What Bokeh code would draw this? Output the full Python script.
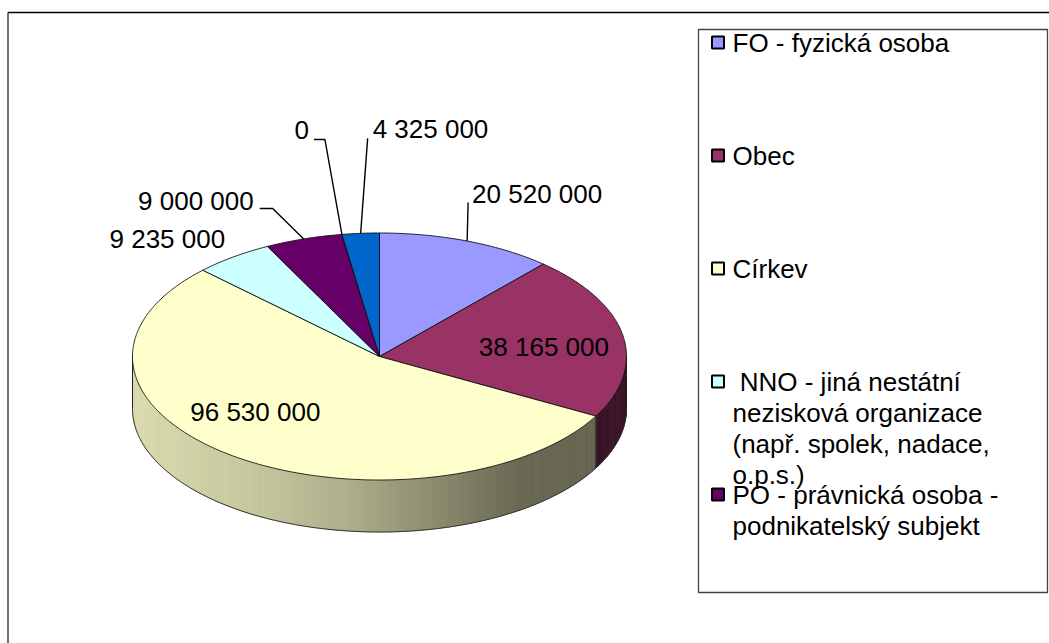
import numpy as np
from bokeh.plotting import figure
from bokeh.models import Range1d, Grid
from bokeh.core.properties import value
from bokeh.embed import file_html
from bokeh.resources import INLINE

# ---------------- data ----------------
categories = ["FO - fyzická osoba", "Obec", "Církev",
              " NNO - jiná nestátní nezisková organizace (např. spolek, nadace, o.p.s.)",
              "PO - právnická osoba - podnikatelský subjekt", "", ""]
values = [20520000, 38165000, 96530000, 9235000, 9000000, 0, 4325000]
colors = ["#9999FF", "#993366", "#FFFFCC", "#CCFFFF", "#660066", "#FF8080", "#0066CC"]
# legend text as wrapped in the original (only the first five entries fit)
legend_lines = [["FO - fyzická osoba"], ["Obec"], ["Církev"],
                ["\u00a0NNO - jiná nestátní", "nezisková organizace", "(např. spolek, nadace,", "o.p.s.)"],
                ["PO - právnická osoba -", "podnikatelský subjekt"]]

# ---------------- layout ----------------
W, H = 1049, 643
X0, Y0 = 0, 0
CX, CY, RX, RY, DEPTH = 379.0, 356.0, 247.0, 123.5, 52.0
FONT = value("Liberation Sans")
FS = "26px"

# label placement relative to slice mid-point on the rim
label_layout = {
    0: ("out", "left", (5, -47.5), [(1, -38.5)]),
    1: ("in", "center", (-79, 12), []),
    2: ("in", "center", (23, -43.5), []),
    3: ("out", "right", (-8, -18), None),
    4: ("out", "right", (-50, -38), [(-31, -30.5), (-44, -30.5)]),
    5: ("out", "right", (-33, -104), [(-17, -95), (-28, -95)]),
    6: ("out", "left", (12, -104), [(7, -95)]),
}


def px(theta):
    return CX + RX * np.sin(np.radians(theta))


def py(theta):
    return CY - RY * np.cos(np.radians(theta))


def fmt(v):
    return f"{v:,}".replace(",", " ")


total = float(sum(values))
angles = np.concatenate([[0.0], np.cumsum(values) / total * 360.0])

p = figure(width=W, height=H, x_range=Range1d(X0, X0 + W), y_range=Range1d(Y0 + H, Y0),
           output_backend="svg", toolbar_location=None, min_border=0,
           x_axis_location=None, y_axis_location=None)
p.center = [r for r in p.center if not isinstance(r, Grid)]
p.outline_line_color = None
p.background_fill_color = "white"
p.border_fill_color = "white"

# chart-area frame (top and left edges visible)
p.line([7.5, X0 + W], [12, 12], line_color="black", line_width=1.5)
p.line([7.5, 7.5], [12, Y0 + H], line_color="#444444", line_width=1.5)


def shade(hexcol, f):
    r, g, b = int(hexcol[1:3], 16), int(hexcol[3:5], 16), int(hexcol[5:7], 16)
    return "#%02x%02x%02x" % (int(r * f), int(g * f), int(b * f))


fx = [132, 250, 350, 450, 520, 600]
ff = [0.86, 0.78, 0.68, 0.52, 0.41, 0.40]

# ---- side walls (front half: 90..270 deg) ----
sxs, sys_, scol = [], [], []
bounds = []
for i, v in enumerate(values):
    a, b = angles[i], angles[i + 1]
    lo, hi = max(a, 90.0), min(b, 270.0)
    if hi <= lo:
        continue
    if 90.0 < a < 270.0:
        bounds.append(a)
    n = max(2, int((hi - lo) / 1.0))
    ts = np.linspace(lo, hi, n + 1)
    for t1, t2 in zip(ts[:-1], ts[1:]):
        tt = np.linspace(t1, t2, 4)
        xs = list(px(tt)) + list(px(tt[::-1]))
        ys = list(py(tt)) + list(py(tt[::-1]) + DEPTH)
        xm = px((t1 + t2) / 2)
        f = 0.38 if i == 1 else float(np.interp(xm, fx, ff))
        c = shade(colors[i], f)
        sxs.append(xs); sys_.append(ys); scol.append(c)
p.patches(sxs, sys_, fill_color=scol, line_color=scol, line_width=0.8)

tb = np.linspace(90, 270, 200)
p.line(px(tb), py(tb) + DEPTH, line_color="#333333", line_width=1)
for t in [90.0, 270.0] + bounds:
    p.segment(x0=[px(t)], y0=[py(t)], x1=[px(t)], y1=[py(t) + DEPTH],
              line_color="#222222", line_width=1)

# ---- top face slices ----
txs, tys = [], []
for i, v in enumerate(values):
    a, b = angles[i], angles[i + 1]
    n = max(2, int((b - a) / 0.5))
    tt = np.linspace(a, b, n + 1)
    txs.append([CX] + list(px(tt)))
    tys.append([CY] + list(py(tt)))
p.patches(txs, tys, fill_color=colors, line_color="#111111", line_width=0.9)

# ---- data labels ----
for i, v in enumerate(values):
    mid = (angles[i] + angles[i + 1]) / 2
    ex, ey = px(mid), py(mid)
    lay = label_layout[i]
    _, align, (dx, dy), pts = lay
    if lay[0] == "out" and pts:
        lx = [ex] + [ex + q[0] for q in pts]
        ly = [ey] + [ey + q[1] for q in pts]
        p.line(lx, ly, line_color="black", line_width=1.4)
    p.text([ex + dx], [ey + dy], text=[fmt(v)], text_font=FONT, text_font_size=FS,
           text_align=align, text_baseline="middle", text_color="black")

# ---- legend ----
LB_L, LB_T, LB_R, LB_B = 698, 29, 1047, 592
p.quad(left=[LB_L], right=[LB_R], top=[LB_T], bottom=[LB_B], fill_color=None,
       line_color="#444444", line_width=1.3)
for i, lines in enumerate(legend_lines):
    yc = 42 + i * 113
    p.rect(x=[717.5], y=[yc], width=12, height=12, fill_color=colors[i],
           line_color="black", line_width=2)
    for j, t in enumerate(lines):
        p.text([732], [yc + j * 31], text=[t], text_font=FONT, text_font_size=FS,
               text_align="left", text_baseline="middle", text_color="black")

open("out.html", "w").write(file_html(p, INLINE))
